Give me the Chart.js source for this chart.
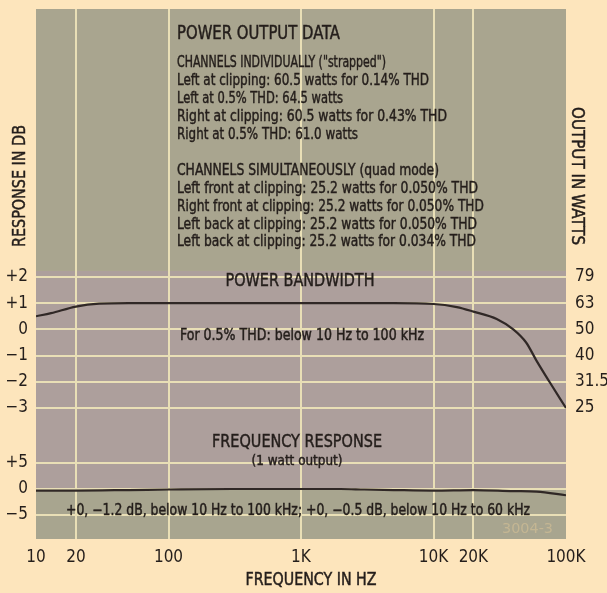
<!DOCTYPE html>
<html><head><meta charset="utf-8">
<style>
html,body{margin:0;padding:0;background:#fde5bc;}
canvas{display:block;}
</style>
<script src="https://cdn.jsdelivr.net/npm/chart.js@4.4.1/dist/chart.umd.min.js"></script>
</head><body>
<canvas id="c" width="607" height="593"></canvas>
<script>
// ---------- data ----------
const freqTicks = [10, 20, 100, 1000, 10000, 20000, 100000];
const freqTickLabels = ['10', '20', '100', '1K', '10K', '20K', '100K'];

const pbFreq = [10, 13, 20, 30, 50, 100, 1000, 5000, 10000, 15000, 20000, 30000, 40000, 50000, 60000, 75000, 100000];
const pbDb   = [0.5, 0.62, 0.87, 0.98, 1.0, 1.0, 1.0, 1.0, 0.97, 0.85, 0.68, 0.4, 0.0, -0.5, -1.2, -2.0, -3.0];

const frFreq = [10, 20, 50, 100, 300, 1000, 2000, 3000, 5000, 10000, 20000, 40000, 60000, 100000];
const frDb   = [-0.3, -0.3, -0.2, -0.1, 0, 0, 0, -0.1, -0.2, -0.3, -0.2, -0.4, -0.5, -1.2];

const pbTicks = [2, 1, 0, -1, -2, -3];
const wattTickLabels = ['79', '63', '50', '40', '31.5', '25'];
const frTicks = [5, 0, -5];

// ---------- style ----------
const FONT = '"Liberation Sans Narrow", "DejaVu Sans Condensed", "Arial Narrow", Roboto, sans-serif';
const INK = '#241e1b';
const GRID = '#e9dfb6';
const PAGE = '#fde5bc';
const OLIVE = '#a9a58f';
const MAUVE = '#ad9f9c';
const OLIVE2 = '#a8a58f';

const fmtDb = v => v > 0 ? '+' + v : (v < 0 ? '\u2212' + Math.abs(v) : '0');

function drawFit(ctx, t) {
  ctx.save();
  ctx.font = (t.weight || 'normal') + ' ' + t.size + 'px ' + FONT;
  ctx.fillStyle = t.color || INK;
  ctx.strokeStyle = t.color || INK;
  ctx.lineWidth = 0.45;
  ctx.textBaseline = 'alphabetic';
  ctx.textAlign = 'left';
  const natural = ctx.measureText(t.text).width;
  ctx.translate(t.x, t.y);
  if (t.rot) ctx.rotate(t.rot);
  ctx.scale(t.w / natural, 1);
  const sx = t.align === 'center' ? -natural / 2 : 0;
  ctx.fillText(t.text, sx, t.size * 0.36);
  if (!t.color) ctx.strokeText(t.text, sx, t.size * 0.36);
  ctx.restore();
}

const bgPlugin = {
  id: 'bg',
  beforeDraw(chart) {
    const {ctx, chartArea: a, scales} = chart;
    const yTextEnd = scales.yPB.getPixelForValue(2.23);
    const yFrZero = scales.yFR.getPixelForValue(0);
    ctx.save();
    ctx.fillStyle = PAGE;
    ctx.fillRect(0, 0, chart.width, chart.height);
    ctx.fillStyle = OLIVE;
    ctx.fillRect(a.left, a.top, a.right - a.left, yTextEnd - a.top);
    ctx.fillStyle = MAUVE;
    ctx.fillRect(a.left, yTextEnd, a.right - a.left, yFrZero - yTextEnd);
    ctx.fillStyle = OLIVE2;
    ctx.fillRect(a.left, yFrZero, a.right - a.left, a.bottom - yFrZero);
    ctx.restore();
  }
};

const notes = [
  {text: 'POWER OUTPUT DATA', x: 177, y: 32, w: 163, size: 19},
  {text: 'CHANNELS INDIVIDUALLY ("strapped")', x: 177, y: 61, w: 209, size: 16},
  {text: 'Left at clipping: 60.5 watts for 0.14% THD', x: 177, y: 79, w: 252, size: 16},
  {text: 'Left at 0.5% THD: 64.5 watts', x: 177, y: 97, w: 166, size: 16},
  {text: 'Right at clipping: 60.5 watts for 0.43% THD', x: 177, y: 115, w: 270, size: 16},
  {text: 'Right at 0.5% THD: 61.0 watts', x: 177, y: 133, w: 181, size: 16},
  {text: 'CHANNELS SIMULTANEOUSLY (quad mode)', x: 177, y: 169, w: 262, size: 16},
  {text: 'Left front at clipping: 25.2 watts for 0.050% THD', x: 177, y: 187, w: 301, size: 16},
  {text: 'Right front at clipping: 25.2 watts for 0.050% THD', x: 177, y: 205, w: 307, size: 16},
  {text: 'Left back at clipping: 25.2 watts for 0.050% THD', x: 177, y: 223, w: 300, size: 16},
  {text: 'Left back at clipping: 25.2 watts for 0.034% THD', x: 177, y: 240, w: 299, size: 16},
  {text: 'POWER BANDWIDTH', x: 300, y: 280, w: 149, size: 18, align: 'center'},
  {text: 'For 0.5% THD: below 10 Hz to 100 kHz', x: 180, y: 335, w: 244, size: 15},
  {text: 'FREQUENCY RESPONSE', x: 297, y: 441, w: 170, size: 18, align: 'center'},
  {text: '(1 watt output)', x: 297, y: 460, w: 91, size: 14, align: 'center'},
  {text: '+0, \u22121.2 dB, below 10 Hz to 100 kHz; +0, \u22120.5 dB, below 10 Hz to 60 kHz', x: 66, y: 510, w: 464, size: 15},
  {text: '3004-3', x: 502, y: 528, w: 51, size: 14, color: '#c4b693'},
  {text: 'RESPONSE IN DB', x: 19, y: 186, w: 122, size: 17, align: 'center', rot: -Math.PI / 2},
  {text: 'OUTPUT IN WATTS', x: 578, y: 176, w: 138, size: 17, align: 'center', rot: Math.PI / 2},
  {text: 'FREQUENCY IN HZ', x: 311, y: 579, w: 131, size: 17, align: 'center'}
];

const textPlugin = {
  id: 'notes',
  afterDraw(chart) {
    const ctx = chart.ctx;
    notes.forEach(n => drawFit(ctx, n));
  }
};

const tickFont = {family: FONT, size: 17};
const noPad = s => { s.paddingTop = 0; s.paddingBottom = 0; };

new Chart(document.getElementById('c'), {
  type: 'line',
  data: {
    datasets: [
      {
        label: 'Power bandwidth',
        data: pbFreq.map((f, i) => ({x: f, y: pbDb[i]})),
        yAxisID: 'yPB',
        borderColor: '#302826',
        borderWidth: 2.2,
        pointRadius: 0,
        cubicInterpolationMode: 'monotone',
        fill: false
      },
      {
        label: 'Frequency response',
        data: frFreq.map((f, i) => ({x: f, y: frDb[i]})),
        yAxisID: 'yFR',
        borderColor: '#302826',
        borderWidth: 2.2,
        pointRadius: 0,
        cubicInterpolationMode: 'monotone',
        fill: false
      }
    ]
  },
  options: {
    responsive: false,
    animation: false,
    devicePixelRatio: 1,
    layout: {padding: {top: 9, left: 0, right: 0, bottom: 0}},
    plugins: {legend: {display: false}, tooltip: {enabled: false}},
    scales: {
      x: {
        type: 'logarithmic', position: 'bottom', min: 10, max: 100000,
        afterBuildTicks: s => { s.ticks = freqTicks.map(v => ({value: v})); },
        ticks: {
          callback: v => { const i = freqTicks.indexOf(v); return i >= 0 ? freqTickLabels[i] : ''; },
          autoSkip: false, maxRotation: 0, minRotation: 0, padding: 8,
          color: INK, font: tickFont
        },
        grid: {
          color: c => (c.tick && (c.tick.value === 10 || c.tick.value === 100000)) ? 'rgba(0,0,0,0)' : GRID,
          lineWidth: 2, drawTicks: false
        },
        border: {display: false},
        afterFit: s => { s.height = 54; s.paddingLeft = 0; s.paddingRight = 0; }
      },
      yPB: {
        type: 'linear', position: 'left', stack: 'left', stackWeight: 427, weight: 2,
        min: -4.069, max: 12.229,
        afterBuildTicks: s => { s.ticks = pbTicks.map(v => ({value: v})); },
        ticks: {callback: v => fmtDb(v), padding: 8, color: INK, font: tickFont},
        grid: {color: GRID, lineWidth: 2, drawTicks: false},
        border: {display: false},
        afterFit: s => { s.width = 36; noPad(s); }
      },
      yFR: {
        type: 'linear', position: 'left', stack: 'left', stackWeight: 103, weight: 1,
        min: -9.615, max: 10.19,
        afterBuildTicks: s => { s.ticks = frTicks.map(v => ({value: v})); },
        ticks: {callback: v => fmtDb(v), padding: 8, color: INK, font: tickFont},
        grid: {color: GRID, lineWidth: 2, drawTicks: false},
        border: {display: false},
        afterFit: s => { s.width = 36; noPad(s); }
      },
      rPB: {
        type: 'linear', position: 'right', stack: 'right', stackWeight: 427, weight: 1,
        min: -4.069, max: 12.229,
        afterBuildTicks: s => { s.ticks = pbTicks.map(v => ({value: v})); },
        ticks: {
          callback: v => { const i = pbTicks.indexOf(v); return i >= 0 ? wattTickLabels[i] : ''; },
          padding: 9, color: INK, font: tickFont
        },
        grid: {display: false, drawTicks: false},
        border: {display: false},
        afterFit: s => { s.width = 41; noPad(s); }
      },
      rFR: {
        type: 'linear', position: 'right', stack: 'right', stackWeight: 103, weight: 2,
        min: -9.615, max: 10.19,
        ticks: {display: false},
        grid: {display: false, drawTicks: false},
        border: {display: false},
        afterFit: s => { s.width = 41; noPad(s); }
      }
    }
  },
  plugins: [bgPlugin, textPlugin]
});
</script>
</body></html>
